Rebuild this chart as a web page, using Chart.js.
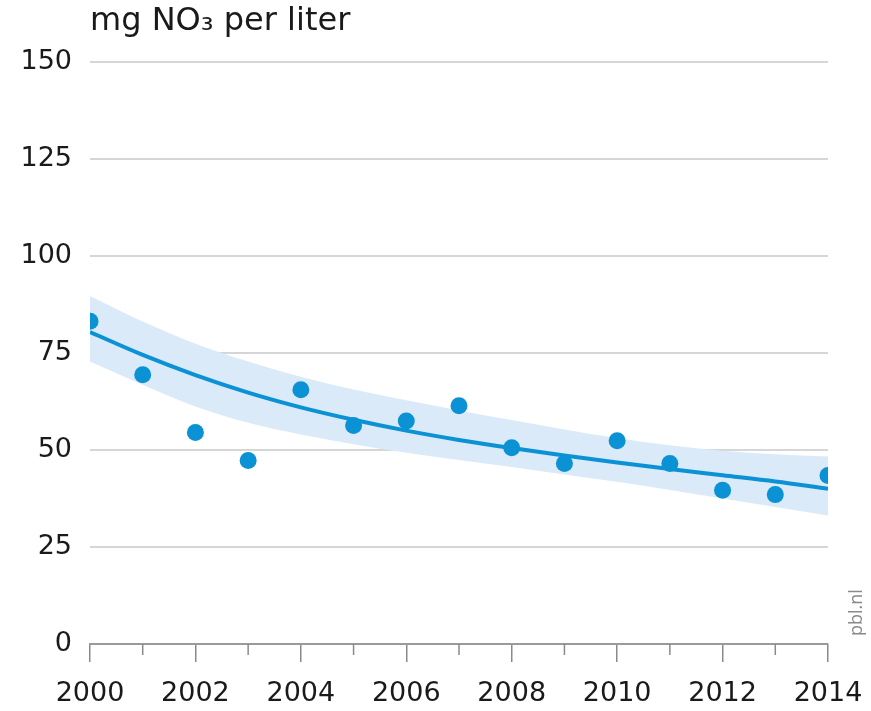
<!DOCTYPE html>
<html>
<head>
<meta charset="utf-8">
<script src="https://cdn.jsdelivr.net/npm/chart.js@4.4.1/dist/chart.umd.min.js"></script>
<style>
  html, body { margin: 0; padding: 0; background: #fff; }
  #wrap { width: 871px; height: 711px; position: relative; }
</style>
</head>
<body>
<div id="wrap"><canvas id="myChart"></canvas></div>
<script>
const years = [2000, 2001, 2002, 2003, 2004, 2005, 2006, 2007, 2008, 2009, 2010, 2011, 2012, 2013, 2014]
const measured = [83.2, 69.4, 54.5, 47.3, 65.5, 56.3, 57.5, 61.4, 50.6, 46.5, 52.4, 46.5, 39.6, 38.5, 43.4]
const trend = [80.4, 74.5, 69.3, 64.8, 61.0, 57.8, 55.0, 52.6, 50.5, 48.6, 46.8, 45.1, 43.5, 41.9, 40.0]
const bandUpper = [89.7, 83.1, 77.4, 72.8, 68.9, 65.6, 62.8, 60.2, 57.7, 55.3, 53.1, 51.2, 49.8, 48.9, 48.3]
const bandLower = [72.8, 66.8, 61.2, 57.0, 54.0, 51.5, 49.3, 47.4, 45.6, 43.7, 41.8, 39.7, 37.5, 35.3, 33.1]
const yTicks = [0, 25, 50, 75, 100, 125, 150]

const blue = '#0a92d4'
const bandColor = '#dbeaf8'
const font = '"DejaVu Sans", "Open Sans", sans-serif'
const tickGray = '#8a8a8a'

const xy = (vals) => years.map((y, i) => ({ x: y, y: vals[i] }))

// title, watermark and the short tick marks for odd years
const extraText = {
    id: 'extraText',
    afterDraw(chart) {
        const ctx = chart.ctx
        const xs = chart.scales.x
        const bottom = chart.chartArea.bottom
        ctx.save()
        ctx.strokeStyle = tickGray
        ctx.lineWidth = 1.5
        years.filter(y => y % 2 === 1).forEach(y => {
            const px = xs.getPixelForValue(y)
            ctx.beginPath()
            ctx.moveTo(px, bottom)
            ctx.lineTo(px, bottom + 11)
            ctx.stroke()
        })
        ctx.fillStyle = '#1a1a1a'
        ctx.font = '32px ' + font
        ctx.textBaseline = 'middle'
        ctx.textAlign = 'left'
        ctx.fillText('mg NO\u2083 per liter', 90, 22)
        ctx.translate(857, 636)
        ctx.rotate(-Math.PI / 2)
        ctx.fillStyle = '#8a8a8a'
        ctx.font = '18px "Open Sans", sans-serif'
        ctx.fillText('pbl.nl', 0, 0)
        ctx.restore()
    }
}

const data = {
    datasets: [{
            label: 'Metingen',
            data: xy(measured),
            showLine: false,
            pointRadius: 8.5,
            pointHoverRadius: 8.5,
            pointBackgroundColor: blue,
            pointBorderWidth: 0,
            order: 0
        },
        {
            label: 'Trend',
            data: xy(trend),
            borderColor: blue,
            borderWidth: 4,
            pointRadius: 0,
            fill: false,
            cubicInterpolationMode: 'monotone',
            order: 1
        },
        {
            label: 'Boven',
            data: xy(bandUpper),
            borderWidth: 0,
            borderColor: 'rgba(0,0,0,0)',
            pointRadius: 0,
            backgroundColor: bandColor,
            fill: '+1',
            cubicInterpolationMode: 'monotone',
            order: 3
        },
        {
            label: 'Onder',
            data: xy(bandLower),
            borderWidth: 0,
            borderColor: 'rgba(0,0,0,0)',
            pointRadius: 0,
            fill: false,
            cubicInterpolationMode: 'monotone',
            order: 2
        }
    ]
};

const config = {
    type: 'line',
    data: data,
    options: {
        responsive: true,
        maintainAspectRatio: false,
        animation: false,
        layout: { padding: { top: 62, right: 43, left: 0, bottom: 0 } },
        plugins: {
            legend: { display: false },
            tooltip: { enabled: false },
            title: { display: false }
        },
        scales: {
            x: {
                type: 'linear',
                min: years[0],
                max: years[years.length - 1],
                afterFit: (s) => {
                    s.height = 67
                    s.paddingLeft = 0
                    s.paddingRight = 0
                },
                border: { display: true, color: '#9a9a9a', width: 2 },
                grid: {
                    drawOnChartArea: false,
                    drawTicks: true,
                    tickLength: 18,
                    tickColor: (c) => (c.tick && c.tick.value % 2 === 0 ? tickGray : 'rgba(0,0,0,0)'),
                    lineWidth: 1.5
                },
                ticks: {
                    stepSize: 1,
                    autoSkip: false,
                    maxRotation: 0,
                    padding: 16,
                    color: '#1a1a1a',
                    font: { family: font, size: 27 },
                    callback: (v) => (v % 2 === 0 ? String(v) : '')
                }
            },
            y: {
                min: yTicks[0],
                max: yTicks[yTicks.length - 1],
                afterFit: (s) => { s.width = 90 },
                afterBuildTicks: (s) => { s.ticks = yTicks.map(v => ({ value: v })) },
                border: { display: false },
                grid: {
                    color: '#d6d6d6',
                    lineWidth: 2,
                    drawTicks: false
                },
                ticks: {
                    padding: 18,
                    color: '#1a1a1a',
                    font: { family: font, size: 27 }
                }
            }
        }
    },
    plugins: [extraText]
};

var myChart = new Chart(
    document.getElementById('myChart'),
    config
)
</script>
</body>
</html>
